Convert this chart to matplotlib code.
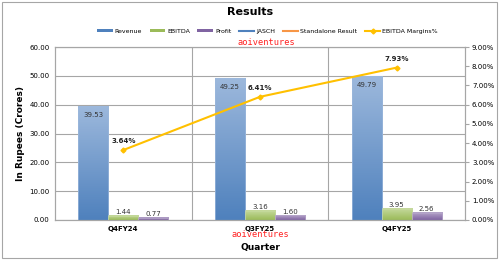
import matplotlib.pyplot as plt
import numpy as np
from matplotlib.colors import LinearSegmentedColormap
from matplotlib.lines import Line2D
from matplotlib.patches import Patch, Rectangle

# Data
quarters = ["Q4FY24", "Q3FY25", "Q4FY25"]
revenue = [39.53, 49.25, 49.79]
ebitda = [1.44, 3.16, 3.95]
profit = [0.77, 1.60, 2.56]
margins = [3.64, 6.41, 7.93]

fig = plt.figure(figsize=(5, 2.6), dpi=100)
fig.patch.set_facecolor("white")
fig.patches.append(Rectangle((0.004, 0.008), 0.99, 0.984, transform=fig.transFigure,
                             fill=False, edgecolor="#a6a6a6", linewidth=0.8))

ax = fig.add_axes([0.11, 0.154, 0.82, 0.665])
x = np.arange(len(quarters))
width = 0.22

series = [
    (revenue, -width, "#4f81bd", "#9cb8dc"),
    (ebitda, 0.0, "#9bbb59", "#c6da9e"),
    (profit, width, "#8064a2", "#b6a6ca"),
]
grad = np.linspace(0, 1, 64).reshape(-1, 1)
for vals, off, dark, light in series:
    cmap = LinearSegmentedColormap.from_list("g", [dark, light])
    for xi, v in zip(x, vals):
        ax.imshow(grad, extent=[xi + off - width / 2, xi + off + width / 2, 0, v],
                  origin="lower", aspect="auto", cmap=cmap, zorder=2)
        ax.add_patch(Rectangle((xi + off - width / 2, 0), width, v, fill=False,
                               edgecolor=light, linewidth=0.5, zorder=3))

for xi, v in zip(x, revenue):
    ax.annotate(f"{v:.2f}", (xi - width, v), xytext=(0, -4), textcoords="offset points",
                ha="center", va="top", fontsize=5, color="#333333", zorder=4)
for vals, off in [(ebitda, 0.0), (profit, width)]:
    for xi, v in zip(x, vals):
        ax.annotate(f"{v:.2f}", (xi + off, v), xytext=(0, 0.5), textcoords="offset points",
                    ha="center", va="bottom", fontsize=5, color="#333333", zorder=4)

ax.set_xlim(-0.5, 2.5)
ax.set_ylim(0, 60)
ax.set_yticks(np.arange(0, 61, 10))
ax.set_yticklabels([f"{t:.2f}" for t in np.arange(0, 61, 10)], fontsize=5)
ax.set_xticks(x)
ax.set_xticklabels(quarters, fontsize=5, fontweight="bold")
ax.tick_params(length=0, pad=4)
ax.grid(axis="y", color="#a6a6a6", linewidth=0.8, zorder=0)
for b in [0.5, 1.5]:
    ax.axvline(b, color="#a6a6a6", linewidth=0.8, zorder=0)
for s in ax.spines.values():
    s.set_color("#a6a6a6")
    s.set_linewidth(0.8)
ax.set_axisbelow(True)
ax.set_ylabel("In Rupees (Crores)", fontsize=6.5, fontweight="bold", labelpad=3)
ax.set_xlabel("Quarter", fontsize=6.5, fontweight="bold", labelpad=8)

ax2 = ax.twinx()
ax2.plot(x, margins, color="#ffc000", linewidth=1.5, marker="D", markersize=2.5, zorder=5)
for xi, m in zip(x, margins):
    ax2.annotate(f"{m:.2f}%", (xi, m), xytext=(0, 4), textcoords="offset points",
                 ha="center", va="bottom", fontsize=5, fontweight="bold", color="#222222")
ax2.set_ylim(0, 9)
ax2.set_yticks(np.arange(0, 10, 1))
ax2.set_yticklabels([f"{t:.2f}%" for t in np.arange(0, 10, 1)], fontsize=5)
ax2.tick_params(length=3, color="#a6a6a6", pad=2)
for s in ax2.spines.values():
    s.set_color("#a6a6a6")
    s.set_linewidth(0.8)

handles = [
    Patch(facecolor="#4f81bd", label="Revenue"),
    Patch(facecolor="#9bbb59", label="EBITDA"),
    Patch(facecolor="#8064a2", label="Profit"),
    Line2D([], [], color="#4f81bd", linewidth=1.5, label="JASCH"),
    Line2D([], [], color="#f79646", linewidth=1.5, label="Standalone Result"),
    Line2D([], [], color="#ffc000", linewidth=1.5, marker="D", markersize=2.5, label="EBITDA Margins%"),
]
fig.legend(handles=handles, loc="center", bbox_to_anchor=(0.535, 0.88), ncol=6, frameon=False,
           fontsize=4.5, handlelength=2.5, handleheight=0.4, columnspacing=1.2, handletextpad=0.3)

fig.text(0.5, 0.955, "Results", ha="center", va="center", fontsize=8, fontweight="bold")
fig.text(0.532, 0.835, "aoiventures", ha="center", va="center", fontsize=6.2,
         family="DejaVu Sans Mono", color="#ff2020")
fig.text(0.52, 0.098, "aoiventures", ha="center", va="center", fontsize=6.2,
         family="DejaVu Sans Mono", color="#ff2020")

fig.savefig("out.png", dpi=100, facecolor="white")
